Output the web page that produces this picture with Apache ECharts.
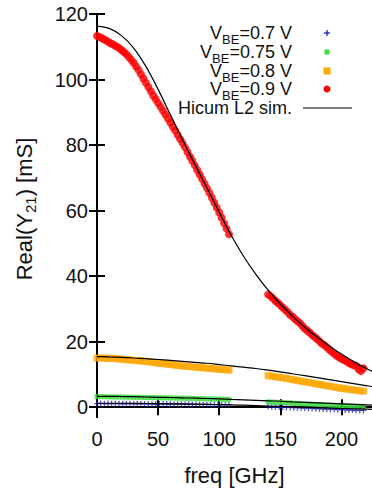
<!DOCTYPE html>
<html><head><meta charset="utf-8">
<script src="https://cdn.jsdelivr.net/npm/echarts@6/dist/echarts.min.js"></script>
<style>html,body{margin:0;padding:0;background:#fff}#c{width:372px;height:493px}</style>
</head><body><div id="c"></div>
<script>
// frequency points (GHz) of measured segments
const freqA = [0,3,6,9,12,15,18,21,24,27,30,33,36,39,42,45,48,51,54,57,60,63,66,69,72,75,78,81,84,87,90,93,96,99,102,105,108];
const freqB = [140,143,146,149,152,155,158,161,164,167,170,173,176,179,182,185,188,191,194,197,200,203,206,209,212,215,218];
// denser frequency points for the VBE=0.9 V measurement
const freqRA = [0,2,4,6,8,10,12,14,16,18,20,22,24,26,28,30,32,34,36,38,40,42,44,46,48,50,52,54,56,58,60,62,64,66,68,70,72,74,76,78,80,82,84,86,88,90,92,94,96,98,100,102,104,106,108];
const freqRB = [140,142,144,146,148,150,152,154,156,158,160,162,164,166,168,170,172,174,176,178,180,182,184,186,188,190,192,194,196,198,200,202,204,206,208,210,212,214,216,218];
// simulation frequency points
const freqSim = [0,10,20,30,40,50,60,70,80,90,100,110,120,130,140,150,160,170,180,190,200,210,220,225];

// VBE = 0.7 V (measured)
const v07A = [1.1,1.12,1.08,1.1,1.1,1.05,1.07,1.03,1.05,1.05,1.0,1.02,0.98,1.0,1.0,1.0,0.95,0.97,0.93,0.95,0.95,0.9,0.92,0.88,0.9,0.9,0.85,0.87,0.83,0.85,0.85,0.8,0.82,0.78,0.8,0.75,0.75];
const v07B = [0.2,0.15,0.12,0.05,0.0,-0.03,-0.1,-0.15,-0.18,-0.25,-0.3,-0.33,-0.4,-0.45,-0.48,-0.55,-0.6,-0.63,-0.7,-0.75,-0.78,-0.85,-0.9,-0.88,-0.95,-1.0,-0.98];
// VBE = 0.75 V
const v075A = [3.2,3.2,3.2,3.15,3.15,3.1,3.1,3.1,3.05,3.05,3.0,3.0,3.0,2.95,2.95,2.9,2.9,2.9,2.85,2.85,2.8,2.8,2.75,2.75,2.7,2.7,2.65,2.65,2.6,2.6,2.55,2.5,2.5,2.45,2.45,2.4,2.4];
const v075B = [1.6,1.55,1.5,1.45,1.4,1.35,1.3,1.2,1.15,1.1,1.0,0.95,0.9,0.85,0.8,0.7,0.65,0.6,0.55,0.5,0.45,0.4,0.35,0.3,0.3,0.25,0.2];
// VBE = 0.8 V
const v08A = [15.0,15.0,14.95,14.9,14.85,14.8,14.7,14.6,14.5,14.4,14.3,14.2,14.1,14.0,13.85,13.7,13.55,13.4,13.3,13.15,13.0,12.9,12.75,12.6,12.5,12.4,12.3,12.2,12.1,12.0,11.9,11.8,11.7,11.6,11.5,11.4,11.3];
const v08B = [9.6,9.45,9.3,9.1,8.95,8.75,8.55,8.35,8.15,7.95,7.75,7.55,7.35,7.15,6.95,6.75,6.55,6.35,6.15,5.95,5.75,5.6,5.45,5.3,5.15,5.0,4.9];
// VBE = 0.9 V
const v09A = [113.3,113.0,112.6,112.2,111.8,111.3,110.9,110.5,110.1,109.6,109.0,108.4,107.7,106.9,106.0,105.1,104.0,102.9,101.6,100.3,99.0,97.7,96.4,95.1,94.0,92.8,91.7,90.5,89.3,88.1,86.9,85.6,84.4,83.1,81.8,80.6,79.3,77.9,76.5,75.2,73.8,72.4,71.0,69.6,68.2,66.8,65.4,63.9,62.4,60.9,59.4,57.8,56.1,54.5,52.8];
const v09B = [34.4,33.9,33.2,32.4,31.8,31.1,30.4,29.7,29.0,28.2,27.6,26.9,26.2,25.6,24.8,24.0,23.4,22.8,22.0,21.5,20.8,20.1,19.4,18.9,18.3,17.6,17.0,16.4,15.7,15.2,14.8,14.4,14.0,13.5,13.1,12.8,12.6,11.6,11.0,11.9];
// Hicum L2 simulation
const sim07 = [1.2,1.2,1.18,1.15,1.12,1.08,1.03,0.98,0.92,0.85,0.78,0.7,0.6,0.48,0.35,0.22,0.1,-0.03,-0.15,-0.28,-0.4,-0.5,-0.6,-0.65];
const sim075 = [3.3,3.3,3.25,3.2,3.1,3.0,2.95,2.85,2.75,2.65,2.55,2.4,2.25,2.1,1.95,1.8,1.6,1.45,1.3,1.15,1.0,0.85,0.7,0.65];
const sim08 = [15.4,15.35,15.2,15.0,14.8,14.55,14.3,14.0,13.7,13.4,13.0,12.6,12.2,11.8,11.3,10.8,10.2,9.6,9.0,8.4,7.8,7.2,6.6,6.3];
const sim09 = [116.3,115.6,113.4,109.6,104.0,97.0,89.3,81.6,74.2,66.9,59.5,52.3,46.0,40.5,35.7,31.5,27.8,24.4,21.4,18.7,16.2,13.9,11.9,11.0];

const xTicks = [0,50,100,150,200];
const yTicks = [0,20,40,60,80,100,120];
const legendLabels = ['=0.7 V','=0.75 V','=0.8 V','=0.9 V'];
const simLabel = 'Hicum L2 sim.';

const FONT = '"Liberation Sans", Arial, sans-serif';
const pair = (xs, ys) => xs.map((x, i) => [x, ys[i]]);

const cols = {b:'#1a22b8', g:'#3ddc3d', o:'#ffa500', r:'#ff0000'};
const plusPath = 'path://M0,-1L0,1M-1,0L1,0';

function scat(name, xs, ys, sym, size, color, stroke) {
  return {
    type:'scatter', name, data: pair(xs, ys), symbol: sym, symbolSize: size,
    itemStyle: stroke ? {color:'none', borderColor: color, borderWidth: 1.2} : {color: color},
    silent: true, animation: false, clip: true
  };
}
function sim(ys) {
  return {type:'line', data: pair(freqSim, ys), showSymbol:false, symbol:'none', smooth:0.3,
    lineStyle:{color:'#000', width:1.2}, silent:true, animation:false, clip:true, z:5};
}

const series = [
  scat('0.7A', freqA, v07A, plusPath, 6, cols.b, true),
  scat('0.7B', freqB, v07B, plusPath, 6, cols.b, true),
  scat('0.75A', freqA, v075A, 'rect', 5, cols.g),
  scat('0.75B', freqB, v075B, 'rect', 5, cols.g),
  scat('0.8A', freqA, v08A, 'rect', 7, cols.o),
  scat('0.8B', freqB, v08B, 'rect', 7, cols.o),
  scat('0.9A', freqRA, v09A, 'circle', 8, cols.r),
  scat('0.9B', freqRB, v09B, 'circle', 8, cols.r),
  sim(sim07), sim(sim075), sim(sim08), sim(sim09)
];

const axisCommon = {
  axisLine:{show:true, lineStyle:{color:'#000', width:2}},
  axisTick:{show:true, inside:true, length:8, lineStyle:{color:'#000', width:2}},
  splitLine:{show:false}
};

// text measurement for subscript layout
const mctx = document.createElement('canvas').getContext('2d');
function tw(t, size) { mctx.font = size + 'px ' + FONT; return mctx.measureText(t).width; }
// parts: [text, size, dy]; returns graphic text elements laid out from x0 along x
function pieces(parts, x0, y) {
  let x = x0;
  return parts.map(([t, size, dy]) => {
    const el = {type:'text', x: x, y: y + dy, style:{text:t, font: size + 'px ' + FONT, fill:'#111', align:'left', verticalAlign:'middle'}};
    x += tw(t, size);
    return el;
  });
}
function totalW(parts) { return parts.reduce((s, [t, size]) => s + tw(t, size), 0); }

const graphics = [];
const legY = [33, 52, 71, 89];
legendLabels.forEach((l, i) => {
  const parts = [['V', 18, 0], ['BE', 13, 6], [l, 18, 0]];
  const w = totalW(parts);
  pieces(parts, 292 - w, legY[i]).forEach(e => graphics.push(e));
});
graphics.push({type:'text', x:292, y:108, style:{text:simLabel, align:'right', verticalAlign:'middle', font:'18px ' + FONT, fill:'#111'}});
// legend symbols
graphics.push({type:'line', shape:{x1:324, y1:33, x2:330, y2:33}, style:{stroke:cols.b, lineWidth:1.3}});
graphics.push({type:'line', shape:{x1:327, y1:30, x2:327, y2:36}, style:{stroke:cols.b, lineWidth:1.3}});
graphics.push({type:'rect', shape:{x:324.5, y:49.5, width:5, height:5}, style:{fill:cols.g}});
graphics.push({type:'rect', shape:{x:323.5, y:67.5, width:7, height:7}, style:{fill:cols.o}});
graphics.push({type:'circle', shape:{cx:327, cy:89, r:3.5}, style:{fill:cols.r}});
graphics.push({type:'line', shape:{x1:303, y1:108, x2:352, y2:108}, style:{stroke:'#000', lineWidth:1.2}});

// y axis title (rotated), with subscript
const yParts = [['Real(Y', 22, 0], ['21', 15, 6], [') [mS]', 22, 0]];
const yW = totalW(yParts);
graphics.push({type:'group', x:24, y:209, rotation:Math.PI/2, children: pieces(yParts, -yW/2, 0)});

const chart = echarts.init(document.getElementById('c'), null, {renderer:'svg', width:372, height:493});
chart.setOption({
  backgroundColor:'#fff',
  animation:false,
  grid:{left:97, top:14, width:277, height:403, containLabel:false},
  xAxis:[
    Object.assign({type:'value', min:0, max:225, position:'bottom',
      name:'freq [GHz]', nameLocation:'middle', nameGap:47,
      nameTextStyle:{fontSize:22, fontFamily:FONT, color:'#111'},
      axisLabel:{fontSize:20, fontFamily:FONT, color:'#111', margin:12, customValues:xTicks},
    }, axisCommon, {axisTick:Object.assign({}, axisCommon.axisTick, {customValues:xTicks})}),
    Object.assign({type:'value', min:0, max:225, position:'top', axisLabel:{show:false}},
      axisCommon, {axisTick:Object.assign({}, axisCommon.axisTick, {customValues:xTicks})})
  ],
  yAxis:[
    Object.assign({type:'value', min:-3, max:120, position:'left',
      axisLabel:{fontSize:20, fontFamily:FONT, color:'#111', margin:9, customValues:yTicks},
    }, axisCommon, {axisTick:Object.assign({}, axisCommon.axisTick, {customValues:yTicks})}),
    Object.assign({type:'value', min:-3, max:120, position:'right', axisLabel:{show:false}},
      axisCommon, {axisTick:Object.assign({}, axisCommon.axisTick, {customValues:yTicks})})
  ],
  series: series,
  graphic: graphics
});
</script>
</body></html>
